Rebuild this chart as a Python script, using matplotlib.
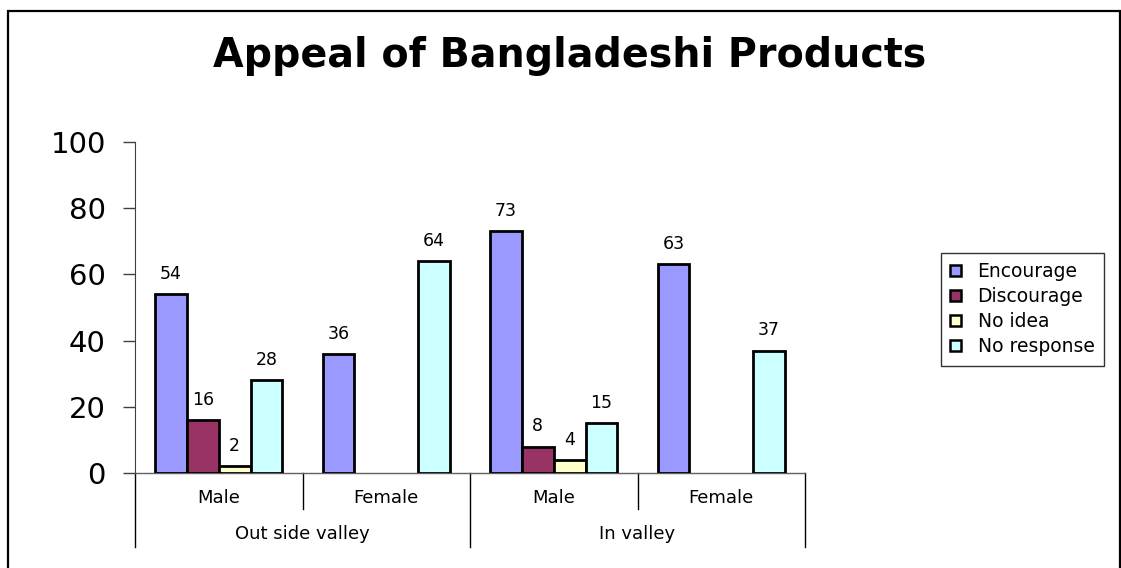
import matplotlib as mpl
mpl.use('Agg')
import matplotlib.pyplot as plt
import matplotlib.transforms as mtrans
from matplotlib.patches import Rectangle
import numpy as np

plt.rcParams['font.family'] = ['DejaVu Sans']

# データ
categories = ["Male", "Female", "Male", "Female"]
regions = ["Out side valley", "In valley"]
series = ["Encourage", "Discourage", "No idea", "No response"]
encourage = [54, 36, 73, 63]
discourage = [16, np.nan, 8, np.nan]
no_idea = [2, np.nan, 4, np.nan]
no_response = [28, 64, 15, 37]
values = [encourage, discourage, no_idea, no_response]
colors = ["#9999FF", "#993366", "#FFFFCC", "#CCFFFF"]
yticks = [0, 20, 40, 60, 80, 100]

fig = plt.figure(figsize=(11.21, 5.68), dpi=100)

# 外枠
fig.patches.append(Rectangle((8 / 1121, -0.02), 1112 / 1121, 1 - 11 / 568 + 0.02,
                             transform=fig.transFigure, fill=False,
                             edgecolor='black', linewidth=1.6))

ax = fig.add_axes([135 / 1121, 1 - 473 / 568, 670 / 1121, 331 / 568])

bar_w = 0.19
for k, (name, vals, col) in enumerate(zip(series, values, colors)):
    x = np.arange(len(categories)) + 0.5 + (k - 1.5) * bar_w
    ax.bar(x, vals, width=bar_w, color=col, edgecolor='black', linewidth=2,
           label=name, zorder=3)
    for xi, v in zip(x, vals):
        if np.isnan(v):
            continue
        ax.annotate(f"{v:g}", (xi, v), xytext=(0, 8), textcoords='offset points',
                    ha='center', va='bottom', fontsize=12.5)

ax.set_xlim(0, 4)
ax.set_ylim(0, 100)
ax.set_yticks(yticks)
ax.tick_params(axis='y', labelsize=21, length=9, width=1, color='#404040', pad=12)
ax.set_xticks([])

for s in ['top', 'right']:
    ax.spines[s].set_visible(False)
ax.spines['left'].set_color('#404040')
ax.spines['bottom'].set_color('#606060')
ax.spines['bottom'].set_linewidth(1)

# カテゴリ軸（2段）
trans = mtrans.blended_transform_factory(ax.transData, ax.transAxes)
for i in range(5):
    bottom = -0.225 if i % 2 == 0 else -0.11
    ax.plot([i, i], [0, bottom], transform=trans, color='black', lw=1, clip_on=False)
for i, c in enumerate(categories):
    ax.text(i + 0.5, -0.075, c, transform=trans, ha='center', va='center', fontsize=13)
for j, r in enumerate(regions):
    ax.text(2 * j + 1, -0.183, r, transform=trans, ha='center', va='center', fontsize=13)

fig.text(570 / 1121, 1 - 56 / 568, "Appeal of Bangladeshi Products",
         ha='center', va='center', fontsize=28.5, fontweight='bold')

leg = fig.legend(loc='upper left', bbox_to_anchor=(941 / 1121, 1 - 253 / 568),
                 fontsize=13.5, frameon=True, fancybox=False, edgecolor='black',
                 handlelength=0.55, handleheight=0.55, handletextpad=0.9,
                 borderpad=0.5, labelspacing=0.32, borderaxespad=0)
leg.get_frame().set_linewidth(1)
for h in leg.legend_handles:
    h.set_linewidth(1.8)

fig.savefig("out.png", dpi=100)
